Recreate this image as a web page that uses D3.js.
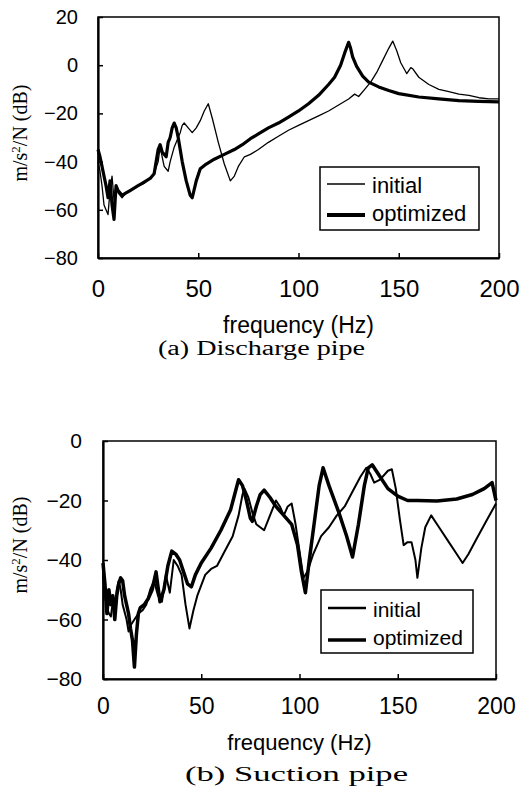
<!DOCTYPE html>
<html><head><meta charset="utf-8">
<script src="https://cdn.jsdelivr.net/npm/d3@7"></script>
<style>body{margin:0;background:#fff}svg{display:block}</style>
</head><body>
<script>
// ---------- DATA ----------
const xTicks = [0, 50, 100, 150, 200];
const yTicksA = [20, 0, -20, -40, -60, -80];
const yTicksB = [0, -20, -40, -60, -80];
const seriesNames = ["initial", "optimized"];
const captions = ["(a)  Discharge pipe", "(b)  Suction pipe"];

// Discharge pipe: [frequency Hz, dB]
const dischargeInitial = [[0,-40],[1,-44],[2,-50],[3,-58],[4,-60],[5,-62],[6,-52],[7,-46],[8,-56],[9,-50],[10,-53],[12,-55],[14,-53],[16,-52],[18,-51],[20,-50],[23,-49],[26,-47],[28,-45],[30,-40],[31,-34],[32,-38],[33,-42],[35,-44],[36,-40],[38,-34],[40,-30],[41,-28],[42,-25],[43,-24],[45,-26],[47,-28],[49,-26],[51,-23],[53,-19],[55,-16],[57,-22],[60,-32],[63,-41],[66,-48],[68,-46],[70,-42],[73,-38],[76,-37],[80,-35],[85,-32],[90,-29.5],[95,-27],[100,-25],[105,-23],[110,-21],[115,-19],[120,-16.5],[125,-14],[128,-12],[130,-13],[133,-10],[136,-7],[139,-3],[142,2],[145,7],[147,10],[149,6],[151,1],[153,-2],[154,-3.5],[156,-1],[157,-1.5],[160,-5],[165,-8],[170,-10],[175,-11],[180,-12],[185,-12.5],[190,-13.5],[195,-14],[200,-14]];
const dischargeOptimized = [[0,-35],[1,-38],[2,-42],[3,-46],[4,-50],[5,-55],[6,-48],[7,-58],[8,-64],[9,-50],[10,-52],[12,-54],[14,-53],[16,-52],[18,-51],[20,-50],[22,-49],[24,-48],[26,-47],[28,-45],[29,-40],[30,-35],[31,-33],[32,-36],[34,-38],[35,-32],[36,-30],[37,-26],[38,-24],[39,-26],[40,-30],[42,-40],[44,-48],[46,-54],[47,-55],[49,-48],[51,-43],[54,-41],[58,-39],[63,-37],[68,-35],[72,-33],[76,-30.5],[80,-28.5],[85,-26],[90,-24],[95,-21.5],[100,-19],[105,-16],[110,-12.5],[115,-8],[118,-5],[121,0],[123,5],[125,9.5],[126,7],[127,3.5],[129,-0.5],[132,-4.5],[135,-7],[140,-9],[145,-10.5],[150,-11.8],[160,-13.2],[170,-14],[180,-14.7],[190,-15],[200,-15.2]];

// Suction pipe: [frequency Hz, dB]
const suctionInitial = [[0,-45],[1,-52],[2,-56],[3,-58],[4,-59],[5,-54],[6,-58],[7,-50],[8,-47],[9,-50],[10,-55],[12,-60],[13,-64],[14,-62],[16,-60],[18,-58],[20,-57],[22,-55],[24,-50],[26,-47],[28,-52],[30,-54],[32,-45],[34,-51],[36,-40],[38,-42],[40,-45],[42,-55],[44,-63],[46,-57],[48,-52],[52,-45],[55,-43],[58,-42],[62,-37],[66,-32],[69,-25],[71,-18],[72,-16],[74,-19],[76,-24],[78,-28],[82,-30],[85,-25],[88,-20],[90,-22],[92,-25],[94,-22],[96,-21],[98,-28],[100,-37],[102,-46],[104,-44],[107,-38],[111,-32],[115,-29],[119,-25],[123,-22],[127,-17],[131,-12],[134,-9],[136,-11],[138,-14],[141,-13],[145,-10],[147,-9.5],[149,-16],[151,-26],[153,-35],[155,-34],[157,-34],[159,-40],[160,-46],[162,-36],[164,-29],[167,-25],[171,-29],[176,-34],[180,-38],[183,-41],[186,-38],[190,-33],[195,-27],[200,-21]];
const suctionOptimized = [[0,-41],[1,-48],[2,-58],[3,-50],[4,-55],[5,-52],[6,-60],[7,-52],[8,-48],[9,-46],[10,-47],[11,-52],[12,-55],[13,-58],[14,-63],[15,-67],[16,-76],[17,-65],[18,-58],[19,-56],[21,-55],[23,-53],[25,-50],[27,-44],[29,-54],[31,-50],[33,-42],[35,-37],[37,-38],[39,-40],[41,-44],[43,-48],[45,-49],[47,-45],[50,-41],[55,-36],[60,-30],[65,-23],[67,-18],[69,-13],[71,-15],[73,-20],[75,-26],[76,-27],[78,-22],[80,-18],[82,-16.5],[85,-19],[88,-22],[92,-25],[96,-28],[99,-35],[101,-44],[103,-51],[105,-40],[108,-25],[110,-15],[112,-9],[115,-15],[120,-24],[124,-32],[127,-39],[130,-28],[133,-15],[135,-9],[137,-8],[140,-11],[145,-16],[150,-18.5],[155,-20],[160,-20],[170,-20.2],[180,-19.5],[188,-18],[194,-16],[198,-14],[200,-20]];

// ---------- DRAW ----------
const W = 524, H = 794;
const svg = d3.select("body").append("svg").attr("width", W).attr("height", H);
const SANS = "'Liberation Sans', Arial, sans-serif";
const SERIF = "'Liberation Serif', 'Times New Roman', serif";

function panel(cfg) {
  const x = d3.scaleLinear().domain([0, 200]).range([cfg.x0, cfg.x1]);
  const y = d3.scaleLinear().domain(cfg.yDomain).range([cfg.y1, cfg.y0]);
  const g = svg.append("g");

  // frame
  g.append("rect").attr("x", cfg.x0).attr("y", cfg.y0)
    .attr("width", cfg.x1 - cfg.x0).attr("height", cfg.y1 - cfg.y0)
    .attr("fill", "none").attr("stroke", "#000").attr("stroke-width", 1.5);

  const xa = g.append("g").attr("transform", `translate(0,${cfg.y1})`)
    .call(d3.axisBottom(x).tickValues(xTicks).tickSizeInner(-5).tickSizeOuter(0).tickPadding(cfg.xPad));
  xa.select(".domain").attr("stroke-width", 2);
  xa.selectAll(".tick line").attr("stroke-width", 1.5);
  xa.selectAll("text").attr("font-family", SANS).attr("font-size", cfg.xFont).attr("fill", "#000");

  const ya = g.append("g").attr("transform", `translate(${cfg.x0},0)`)
    .call(d3.axisLeft(y).tickValues(cfg.yTicks).tickSizeInner(-5).tickSizeOuter(0).tickPadding(cfg.yPad)
      .tickFormat(d => d < 0 ? "\u2212" + Math.abs(d) : String(d)));
  ya.select(".domain").attr("stroke-width", 2.2);
  ya.selectAll(".tick line").attr("stroke-width", 1.5);
  ya.selectAll("text").attr("font-family", SANS).attr("font-size", cfg.yFont).attr("fill", "#000");

  const line = d3.line().x(d => x(d[0])).y(d => y(d[1])).curve(d3.curveLinear);
  g.append("path").datum(cfg.initial).attr("d", line).attr("fill", "none")
    .attr("stroke", "#000").attr("stroke-width", cfg.wInit).attr("stroke-linejoin", "round");
  g.append("path").datum(cfg.optimized).attr("d", line).attr("fill", "none")
    .attr("stroke", "#000").attr("stroke-width", cfg.wOpt).attr("stroke-linejoin", "round");

  // x title
  g.append("text").attr("x", (cfg.x0 + cfg.x1) / 2).attr("y", cfg.xTitleY)
    .attr("text-anchor", "middle").attr("font-family", SANS).attr("font-size", cfg.xTitleFont)
    .text("frequency (Hz)");

  // y title
  const yt = g.append("text").attr("transform", `translate(27,${cfg.yTitleY}) rotate(-90)`)
    .attr("text-anchor", "middle").attr("font-family", SERIF).attr("font-size", 20);
  yt.append("tspan").text("m/s");
  yt.append("tspan").attr("baseline-shift", "super").attr("font-size", 13).text("2");
  yt.append("tspan").text("/N (dB)");

  // legend
  const L = cfg.legend;
  g.append("rect").attr("x", L.x).attr("y", L.y).attr("width", L.w).attr("height", L.h)
    .attr("fill", "#fff").attr("stroke", "#000").attr("stroke-width", 1.5);
  const rows = [{name: seriesNames[0], w: cfg.lwInit, ly: L.l1, ty: L.t1},
                {name: seriesNames[1], w: cfg.lwOpt, ly: L.l2, ty: L.t2}];
  rows.forEach(r => {
    g.append("line").attr("x1", L.x + 7).attr("x2", L.x + 45).attr("y1", r.ly).attr("y2", r.ly)
      .attr("stroke", "#000").attr("stroke-width", r.w);
    g.append("text").attr("x", L.x + 52).attr("y", r.ty).attr("font-family", SANS)
      .attr("font-size", L.font).text(r.name);
  });

  // caption
  g.append("text").attr("x", cfg.capX).attr("y", cfg.capY).attr("font-family", SERIF)
    .attr("font-size", 20).attr("textLength", cfg.capLen).attr("lengthAdjust", "spacingAndGlyphs")
    .text(cfg.caption);
}

panel({
  x0: 98, x1: 499, y0: 17, y1: 258, yDomain: [-80, 20], yTicks: yTicksA,
  xPad: 22, yPad: 20, xFont: 24, yFont: 20, xTitleFont: 23, xTitleY: 333, yTitleY: 133,
  initial: dischargeInitial, optimized: dischargeOptimized, wInit: 1.3, wOpt: 3.2,
  lwInit: 1.5, lwOpt: 4,
  legend: {x: 320, y: 167, w: 159, h: 63, l1: 184, l2: 215, t1: 193, t2: 221, font: 22},
  caption: captions[0], capX: 158, capY: 355, capLen: 207
});
panel({
  x0: 103, x1: 496, y0: 441, y1: 679, yDomain: [-80, 0], yTicks: yTicksB,
  xPad: 19, yPad: 21, xFont: 23, yFont: 21, xTitleFont: 22, xTitleY: 750, yTitleY: 545,
  initial: suctionInitial, optimized: suctionOptimized, wInit: 2, wOpt: 3.5,
  lwInit: 2.5, lwOpt: 3.5,
  legend: {x: 321, y: 590, w: 152, h: 63, l1: 608, l2: 640, t1: 617, t2: 645, font: 21},
  caption: captions[1], capX: 185, capY: 781, capLen: 223
});
</script>
</body></html>
